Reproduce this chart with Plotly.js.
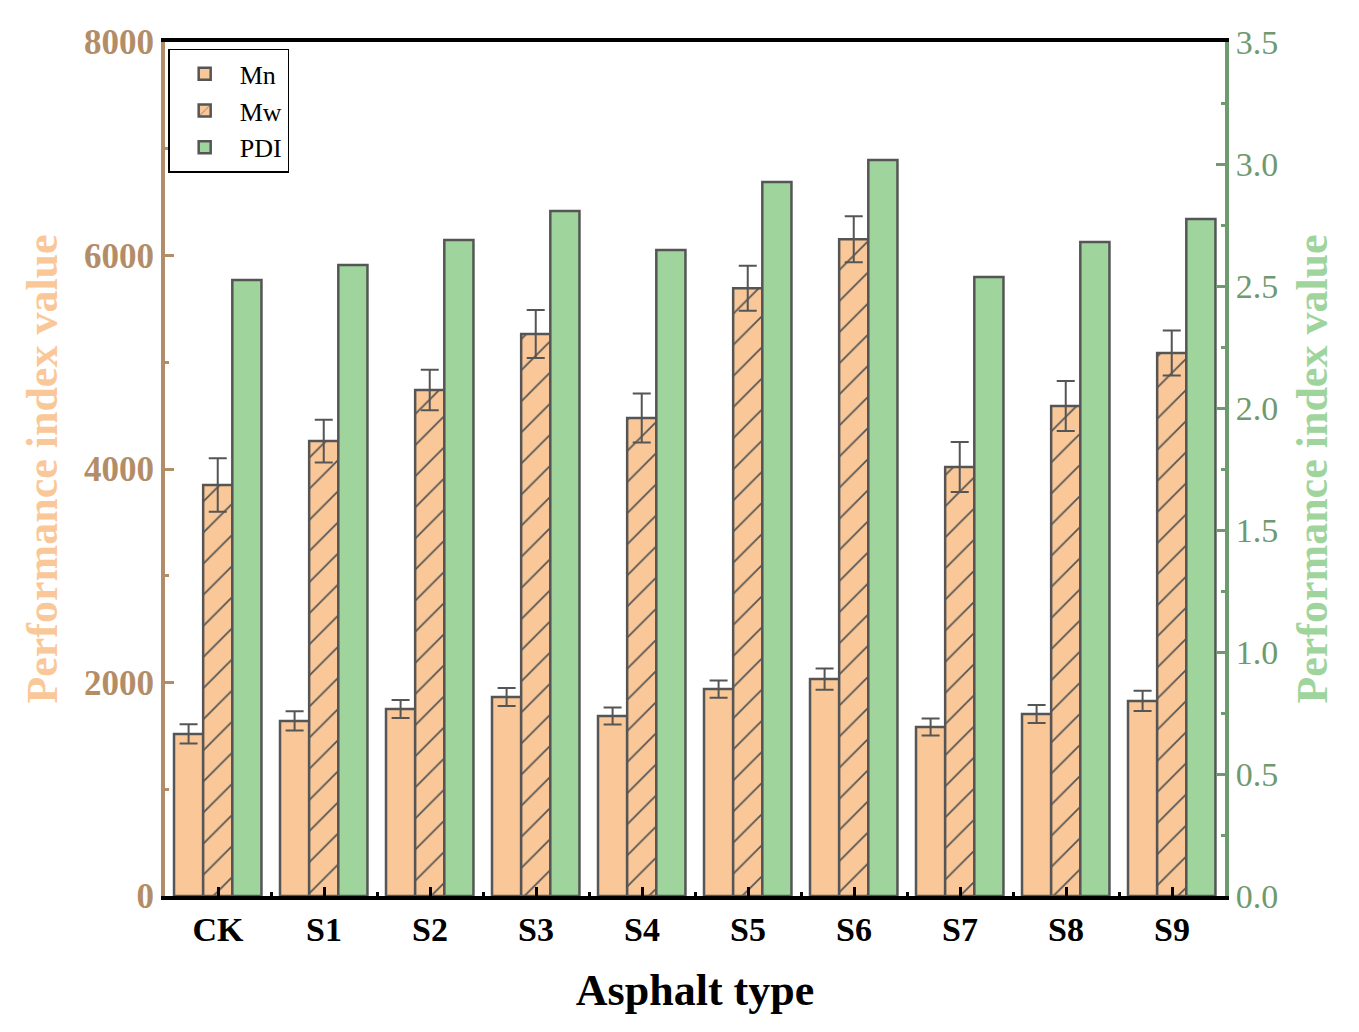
<!DOCTYPE html>
<html>
<head>
<meta charset="utf-8">
<script src="https://cdn.plot.ly/plotly-3.0.1.min.js"></script>
<style>
	html, body { margin: 0; padding: 0; background: #fff; }
	#chart { width: 1359px; height: 1032px; }
</style>
</head>
<body>
<div id="chart"></div>
<script>
const categories = ['CK', 'S1', 'S2', 'S3', 'S4', 'S5', 'S6', 'S7', 'S8', 'S9'];
const mnValues = [1518, 1640, 1752, 1864, 1686, 1938, 2032, 1583, 1705, 1827];
const mnErrors = [90, 90, 85, 85, 80, 80, 100, 80, 85, 95];
const mwValues = [3850, 4262, 4740, 5265, 4478, 5693, 6152, 4019, 4590, 5087];
const mwErrors = [250, 200, 190, 225, 230, 210, 215, 235, 235, 210];
const pdiValues = [2.525, 2.586, 2.689, 2.807, 2.648, 2.926, 3.016, 2.537, 2.680, 2.775];

const peach = '#FAC898';
const green = '#9FD59D';
const edge = '#555555';
const serif = 'Times New Roman, Liberation Serif, serif';

// numeric x positions so minor ticks can sit between categories
const xPos = categories.map(function (c, i) { return i; });

const barLine = { color: edge, width: 2.5 };
const errStyle = { type: 'data', visible: true, color: edge, thickness: 2, width: 9 };

const traceMn = {
	type: 'bar', name: 'Mn', x: xPos, y: mnValues,
	width: 0.275, offset: -0.415,
	marker: { color: peach, line: barLine },
	error_y: Object.assign({ array: mnErrors }, errStyle),
	yaxis: 'y'
};

const traceMw = {
	type: 'bar', name: 'Mw', x: xPos, y: mwValues,
	width: 0.275, offset: -0.14,
	marker: {
		color: peach, line: barLine,
		pattern: { shape: '/', fgcolor: edge, bgcolor: peach, size: 22, solidity: 0.08 }
	},
	error_y: Object.assign({ array: mwErrors }, errStyle),
	yaxis: 'y'
};

const tracePdi = {
	type: 'bar', name: 'PDI', x: xPos, y: pdiValues,
	width: 0.275, offset: 0.135,
	marker: { color: green, line: barLine },
	yaxis: 'y2'
};

const layout = {
	width: 1359,
	height: 1032,
	margin: { l: 165, r: 134, t: 42, b: 136 },
	paper_bgcolor: '#fff',
	plot_bgcolor: '#fff',
	showlegend: true,
	legend: {
		x: 0.003, y: 0.992, xanchor: 'left', yanchor: 'top',
		bordercolor: '#000', borderwidth: 1.5, bgcolor: '#fff',
		font: { family: serif, size: 26, color: '#000' },
		itemwidth: 60,
		tracegroupgap: 0
	},
	xaxis: {
		range: [-0.5, 9.5],
		tickvals: xPos,
		ticktext: categories,
		tickfont: { family: serif, size: 34, color: '#000', weight: 'bold' },
		ticks: 'inside', ticklen: 9, tickwidth: 3, tickcolor: '#000',
		minor: { tick0: 0.5, dtick: 1, ticks: 'inside', ticklen: 4, tickwidth: 3, tickcolor: '#000' },
		showline: true, linecolor: '#000', linewidth: 4, mirror: true,
		showgrid: false, zeroline: false,
		title: { text: 'Asphalt type', font: { family: serif, size: 44, color: '#000', weight: 'bold' }, standoff: 28 }
	},
	yaxis: {
		range: [0, 8000],
		dtick: 2000,
		tickfont: { family: serif, size: 35, color: '#B38D68', weight: 'bold' },
		ticks: 'inside', ticklen: 9, tickwidth: 3, tickcolor: '#B38D68',
		minor: { dtick: 1000, ticks: 'inside', ticklen: 4, tickwidth: 3, tickcolor: '#B38D68' },
		showline: true, linecolor: '#B38D68', linewidth: 4,
		showgrid: false, zeroline: false,
		title: { text: 'Performance index value', font: { family: serif, size: 44, color: peach, weight: 'bold' }, standoff: 14 }
	},
	yaxis2: {
		overlaying: 'y', side: 'right',
		range: [0, 3.5],
		dtick: 0.5,
		tickformat: '.1f',
		tickfont: { family: serif, size: 34, color: '#6F9A6F' },
		ticks: 'inside', ticklen: 9, tickwidth: 3, tickcolor: '#6F9A6F',
		minor: { dtick: 0.25, ticks: 'inside', ticklen: 4, tickwidth: 3, tickcolor: '#6F9A6F' },
		showline: true, linecolor: '#6F9A6F', linewidth: 4,
		showgrid: false, zeroline: false,
		title: { text: 'Performance index value', font: { family: serif, size: 44, color: green, weight: 'bold' }, standoff: 20 }
	}
};

Plotly.newPlot('chart', [traceMn, traceMw, tracePdi], layout, { displayModeBar: false, staticPlot: true });
</script>
</body>
</html>
